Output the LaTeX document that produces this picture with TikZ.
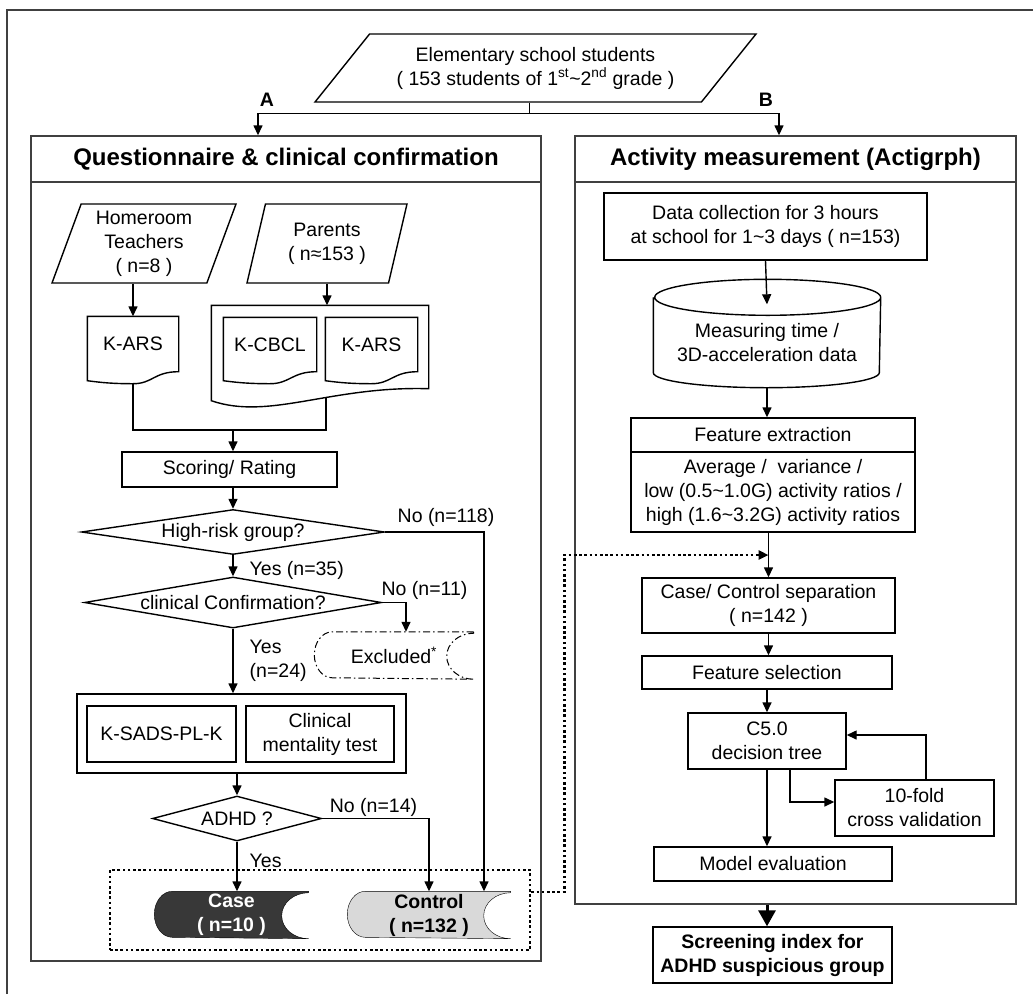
\documentclass[tikz,border=0pt]{standalone}
\usepackage{fontspec}
\setmainfont{Liberation Sans}
\usetikzlibrary{arrows.meta,positioning,shapes.geometric,calc,backgrounds}
\definecolor{casefill}{HTML}{383838}
\definecolor{ctrlfill}{HTML}{D9D9D9}
\definecolor{framegray}{HTML}{404040}
\tikzset{
  box/.style={draw, inner sep=0pt, align=center},
  plain/.style={inner sep=0pt, align=center},
  panel/.style={draw=framegray, inner sep=0pt},
  heading/.style={font=\fontsize{24}{28}\selectfont\bfseries},
  bold/.style={font=\fontsize{19.5}{24}\selectfont\bfseries},
  data/.style={
    draw,
    shape=trapezium,
    trapezium left angle=66,
    trapezium right angle=114,
    trapezium stretches body,
    inner sep=0pt,
    align=center
  },
  decision/.style={draw, shape=diamond, inner sep=0pt},
  lbl/.style={inner sep=0pt},
  dotlink/.style={line width=2.6pt, dash pattern=on 2.6pt off 2.6pt}
}
% document symbol with a wavy bottom
\newcommand{\docpath}[1]{%
  (#1.north west) -- (#1.north east) -- (#1.south east)
  .. controls +(-25,0) and +(20,0) .. ([yshift=-12pt]#1.south)
  .. controls +(-20,0) and +(15,2) .. ([yshift=-9pt]#1.south west) -- cycle}
% stored data symbol
\newcommand{\storedpath}[1]{%
  (#1.north east) -- ([xshift=18pt]#1.north west)
  arc[start angle=90, end angle=270, x radius=18pt, y radius=23pt]
  -- (#1.south east)
  arc[start angle=270, end angle=90, x radius=27pt, y radius=23pt] -- cycle}

\begin{document}
\begin{tikzpicture}[x=1pt, y=-1pt, >={Triangle[length=10pt,width=9pt]},
  line width=1.4pt, font=\fontsize{19.5}{24}\selectfont]
\useasboundingbox (0,0) rectangle (1033,994);
\draw[framegray, line width=2pt] (7,994) -- (7,9.5) -- (1033,9.5);

% top
\node[data, trapezium left angle=37.7, trapezium right angle=142.3,
  minimum width=441pt, minimum height=68pt] (students) at (535.5,68)
  {Elementary school students\\( 153 students of 1\textsuperscript{st}\textasciitilde 2\textsuperscript{nd} grade )};
\node[bold] (labA) at (267,100) {A};
\node[bold] (labB) at (766,100) {B};

% panels
\node[panel, heading, minimum width=510pt, minimum height=46pt] (qtitle) at (286,159) {Questionnaire \& clinical confirmation};
\node[panel, minimum width=510pt, minimum height=779pt] (qbody) at (286,571.5) {};
\node[panel, heading, minimum width=441pt, minimum height=46pt] (atitle) at (795.5,159) {Activity measurement (Actigrph)};
\node[panel, minimum width=441pt, minimum height=722pt] (abody) at (795.5,543) {};

\draw ([xshift=-6pt]students.south) -- ++(0,11) coordinate (split);
\draw[->] (split) -| ([xshift=-28pt]qtitle.north);
\draw[->] (split) -| ([xshift=-16.5pt]atitle.north);

% A: questionnaire
\node[data, minimum width=184pt, minimum height=79pt] (homeroom) at (144,243.5) {Homeroom\\Teachers\\( n=8 )};
\node[data, minimum width=160pt, minimum height=79pt] (parents) at (327,243.5) {Parents\\( n≈153 )};
\node[plain, minimum width=90pt, minimum height=54pt] (karsT) at (133,344) {K-ARS};
\node[plain, minimum width=216pt, minimum height=82pt] (pgrp) at (320,347) {};
\node[plain, minimum width=92pt, minimum height=53pt] (kcbcl) at (270,344.5) {K-CBCL};
\node[plain, minimum width=91pt, minimum height=53pt] (karsP) at (371.5,344.5) {K-ARS};
\draw \docpath{karsT};
\draw \docpath{kcbcl};
\draw \docpath{karsP};
\draw (pgrp.north west) -- (pgrp.north east) -- (pgrp.south east)
  .. controls +(-98,-3) and +(58,20) .. ([yshift=-12pt]pgrp.south west) -- cycle;

\draw[->] (homeroom.south -| karsT.north) -- (karsT.north);
\draw[->] (parents.south) -- (parents.south |- pgrp.north);

\node[box, minimum width=215pt, minimum height=35pt] (score) at (229.5,469.5) {Scoring/ Rating};
\coordinate (mrg) at (233,430);
\draw ([yshift=-12pt]karsT.south) |- (mrg) -| ([xshift=6pt,yshift=-9pt]pgrp.south);
\draw[->] (mrg) -- (mrg |- score.north);

\node[decision, aspect=6.73, minimum width=303pt, minimum height=45pt] (hr) at (233,532) {High-risk group?};
\node[decision, aspect=5.82, minimum width=297pt, minimum height=51pt] (clin) at (233,602.5) {clinical Confirmation?};
\node[plain, minimum width=158pt, minimum height=46pt] (excl) at (394,655.5) {Excluded\textsuperscript{*}};
\node[box, minimum width=329pt, minimum height=79pt] (tests) at (241.5,733.5) {};
\node[box, line width=2.2pt, minimum width=149pt, minimum height=56pt] (ksads) at (161.5,734) {K-SADS-PL-K};
\node[box, line width=2.2pt, minimum width=148pt, minimum height=56pt] (cmt) at (320,734) {Clinical\\mentality test};
\node[decision, aspect=3.76, minimum width=169pt, minimum height=45pt] (adhd) at (237,818.5) {ADHD ?};

\node[draw, dotlink, minimum width=420pt, minimum height=80pt] (grp) at (320,910) {};
\node[plain, bold, text=white, minimum width=153pt, minimum height=46pt] (case) at (231.5,915) {Case\\( n=10 )};
\node[plain, bold, minimum width=162pt, minimum height=46pt] (ctrl) at (429,915) {Control\\( n=132 )};
\begin{scope}[on background layer]
  \draw[fill=casefill] \storedpath{case};
  \draw[fill=ctrlfill] \storedpath{ctrl};
  \draw[line width=1pt, dash pattern=on 7pt off 3pt on 1.5pt off 3pt] \storedpath{excl};
\end{scope}

\node[lbl] (no118) at (446,517) {No (n=118)};
\node[lbl, anchor=west] (yes35) at (249,570) {Yes (n=35)};
\node[lbl] (no11) at (424.5,590) {No (n=11)};
\node[lbl, anchor=west, align=left] (yes24) at (249,661) {Yes\\(n=24)};
\node[lbl] (no14) at (373.5,807) {No (n=14)};
\node[lbl, anchor=west] (yes) at (249,861) {Yes};

\draw[->] (score.south -| hr.north) -- (hr.north);
\draw[->] (hr.south) -- (clin.north);
\draw[->] (hr.east) -| ([xshift=55pt]ctrl.north);
\draw[->] (clin.east) -| ([xshift=12pt]excl.north);
\draw[->] (clin.south) -- (clin.south |- tests.north);
\draw[->] (tests.south -| adhd.north) -- (adhd.north);
\draw[->] (adhd.south) -- (adhd.south |- case.north);
\draw[->] (adhd.east) -| (ctrl.north);

% B: activity measurement
\node[box, minimum width=323pt, minimum height=67pt] (dc) at (765.5,226.5) {Data collection for 3 hours\\at school for 1\textasciitilde 3 days ( n=153)};
\node[plain, minimum width=226pt, minimum height=89pt] (cyl) at (767,342.5) {Measuring time /\\3D-acceleration data};
\draw (cyl.north west) -- ([yshift=15pt]cyl.south west)
  arc[start angle=180, end angle=360, x radius=113pt, y radius=15pt]
  -- (cyl.north east)
  arc[start angle=0, end angle=360, x radius=113pt, y radius=18pt];
\node[box, minimum width=284pt, minimum height=34pt] (fext) at (773,435) {Feature extraction};
\node[box, minimum width=284pt, minimum height=80pt, below=-1.4pt of fext] (feat)
  {Average /\ \ variance /\\low (0.5\textasciitilde 1.0G) activity ratios /\\high (1.6\textasciitilde 3.2G) activity ratios};
\node[box, minimum width=253pt, minimum height=55pt] (csep) at (768.5,605.5) {Case/ Control separation\\( n=142 )};
\node[box, minimum width=250pt, minimum height=33pt] (fsel) at (767,672.5) {Feature selection};
\node[box, minimum width=158pt, minimum height=56pt] (c50) at (767,741) {C5.0\\decision tree};
\node[box, minimum width=159pt, minimum height=56pt] (tenf) at (914.5,808) {10-fold\\cross validation};
\node[box, minimum width=238pt, minimum height=34pt] (meval) at (773,864) {Model evaluation};
\node[box, bold, minimum width=239pt, minimum height=56pt] (screen) at (772.5,955) {Screening index for\\ADHD suspicious group};

\draw[->] (dc.south) -- ([yshift=-7pt]cyl.north);
\draw[->] (cyl.south) -- (cyl.south |- fext.north);
\draw[->] (feat.south -| csep.north) -- (csep.north);
\draw[->] (csep.south) -- (csep.south |- fsel.north);
\draw[->] (fsel.south) -- (c50.north);
\draw[->] (c50.south) -- (c50.south |- meval.north);
\draw[->] ([xshift=23pt]c50.south) |- ([yshift=6pt]tenf.west);
\draw[->] ([xshift=11.5pt]tenf.north) |- ([yshift=6pt]c50.east);
\draw[-{Triangle[length=16pt,width=17pt]}, line width=3pt] (c50.south |- abody.south) -- (c50.south |- screen.north);

% case/control group feeds the separation step
\draw[dotlink, ->] ([yshift=18pt]grp.east) -- ++(33,0)
  |- ($(feat.south -| csep.north)!0.5!(csep.north)$);
\end{tikzpicture}
\end{document}
